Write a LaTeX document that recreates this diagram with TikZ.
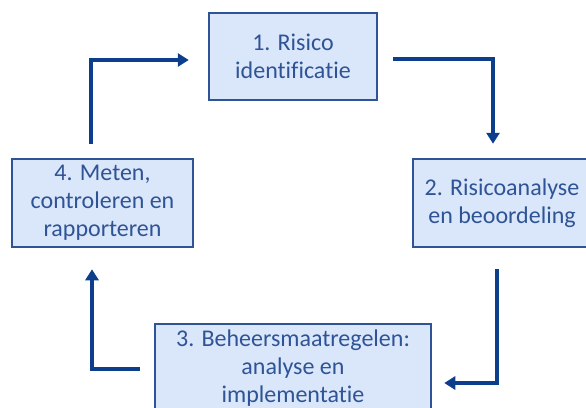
\documentclass[tikz,border=0pt]{standalone}
\usepackage{xcolor}
\usepackage{fontspec}
\setmainfont{Carlito}[Ligatures={NoCommon,NoRequired,NoContextual}]
\usepackage{tikz}
\usetikzlibrary{positioning, calc, arrows.meta}
\definecolor{boxblue}{RGB}{218,230,250}
\definecolor{edgeblue}{RGB}{47,84,150}
\definecolor{arrowblue}{RGB}{12,62,140}

\begin{document}
\begin{tikzpicture}[x=1pt, y=-1pt,
	riskbox/.style={draw=edgeblue, line width=2.5pt, fill=boxblue, text=edgeblue,
		align=center, inner sep=0pt, font=\fontsize{24}{28}\selectfont},
	flowarrow/.style={draw=arrowblue, line width=4pt,
		-{Triangle[length=11pt, width=13pt]}}]
						\path[use as bounding box, clip] (0,0) rectangle (586,407);
						
						\node[riskbox, minimum width=168pt, minimum height=87pt] (risk1) at (293,56.5) {1. Risico\\identificatie};
						\node[riskbox, minimum width=178pt, minimum height=88pt] (risk2) at (502,203) {2. Risicoanalyse\\en beoordeling};
						\node[riskbox, minimum width=276pt, minimum height=88pt] (risk3) at (293,368) {3. Beheersmaatregelen:\\analyse en\\implementatie};
						\node[riskbox, minimum width=181pt, minimum height=88pt] (risk4) at (102.5,203) {4. Meten,\\controleren en\\rapporteren};
						
						%% arrows round the cycle
						\draw[flowarrow] ([xshift=15pt, yshift=-2.5pt]risk1.east) -| ([xshift=-9pt, yshift=14pt]risk2.north);
						\draw[flowarrow] ([xshift=-5pt, yshift=-21pt]risk2.south) |- ([xshift=12pt, yshift=-15pt]risk3.east);
						\draw[flowarrow] ([xshift=-14pt, yshift=-1pt]risk3.west) -| ([xshift=-10.5pt, yshift=-21pt]risk4.south);
						\draw[flowarrow] ([xshift=-11.5pt, yshift=14pt]risk4.north) |- ([xshift=-19pt, yshift=-3.5pt]risk1.west);
\end{tikzpicture}
\end{document}
